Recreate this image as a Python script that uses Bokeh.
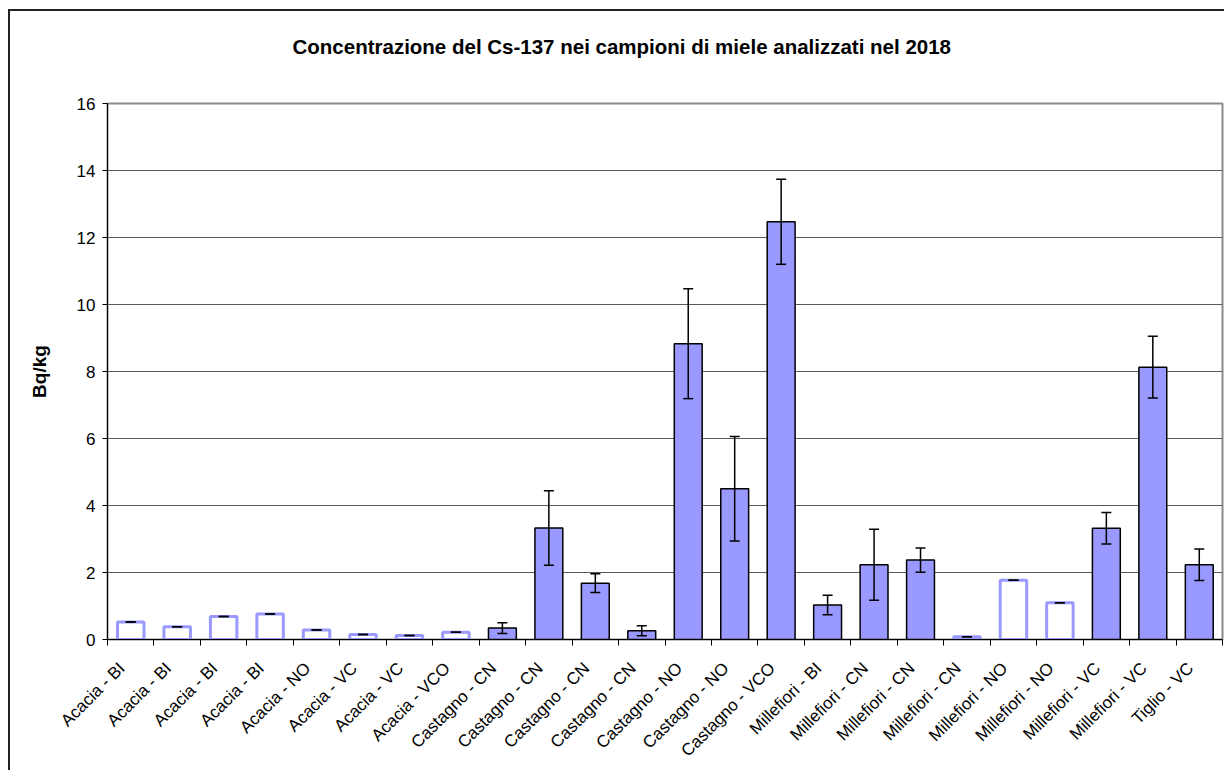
import math
from bokeh.plotting import figure
from bokeh.models import (Range1d, FixedTicker, ColumnDataSource, Whisker, TeeHead, Title)
from bokeh.embed import file_html
from bokeh.resources import INLINE

# ---- data ----
categories = ["Acacia - BI", "Acacia - BI", "Acacia - BI", "Acacia - BI",
              "Acacia - NO", "Acacia - VC", "Acacia - VC", "Acacia - VCO",
              "Castagno - CN", "Castagno - CN", "Castagno - CN", "Castagno - CN",
              "Castagno - NO", "Castagno - NO", "Castagno - VCO",
              "Millefiori - BI", "Millefiori - CN", "Millefiori - CN", "Millefiori - CN",
              "Millefiori - NO", "Millefiori - NO", "Millefiori - VC", "Millefiori - VC",
              "Tiglio - VC"]
values = [0.52, 0.38, 0.69, 0.76, 0.28, 0.15, 0.12, 0.22,
          0.34, 3.33, 1.68, 0.26, 8.83, 4.50, 12.47,
          1.03, 2.23, 2.37, 0.08, 1.77, 1.10, 3.32, 8.13, 2.23]
errors = [0, 0, 0, 0, 0, 0, 0, 0,
          0.16, 1.11, 0.28, 0.15, 1.64, 1.56, 1.27,
          0.29, 1.06, 0.36, 0, 0, 0, 0.47, 0.92, 0.47]
detected = [False] * 8 + [True] * 10 + [False] * 3 + [True] * 3
y_ticks = [0, 2, 4, 6, 8, 10, 12, 14, 16]
title_text = "Concentrazione del Cs-137 nei campioni di miele analizzati nel 2018"
y_label = "Bq/kg"

FONT = "Liberation Sans"
n = len(categories)
xs = list(range(n))

src_det = ColumnDataSource(dict(
    x=[x for x, d in zip(xs, detected) if d],
    top=[v for v, d in zip(values, detected) if d]))
src_nd = ColumnDataSource(dict(
    x=[x for x, d in zip(xs, detected) if not d],
    top=[v for v, d in zip(values, detected) if not d]))
src_err = ColumnDataSource(dict(
    x=xs,
    upper=[v + e for v, e in zip(values, errors)],
    lower=[v - e for v, e in zip(values, errors)]))

p = figure(width=1224, height=770, output_backend="svg", toolbar_location=None,
           x_range=Range1d(-0.5, n - 0.5), y_range=Range1d(0, 16),
           min_border_left=107, min_border_right=2, min_border_top=103,
           min_border_bottom=131)
p.border_fill_color = None
p.background_fill_color = "white"
p.outline_line_color = "#8a8a8a"
p.outline_line_width = 2
p.styles = {
    "background-image": "linear-gradient(#222222, #222222), linear-gradient(#222222, #222222)",
    "background-size": "100% 2px, 2px 100%",
    "background-position": "9px 9px, 8px 9px",
    "background-repeat": "no-repeat",
}

p.vbar(x="x", top="top", width=0.6, source=src_det,
       fill_color="#9999FF", line_color="black", line_width=1.5)
p.vbar(x="x", top="top", width=0.57, source=src_nd,
       fill_color="white", line_color="#9999FF", line_width=3)

wh = Whisker(source=src_err, base="x", upper="upper", lower="lower",
             line_color="black", line_width=1.5, level="annotation",
             upper_head=TeeHead(size=10, line_width=1.5, line_color="black"),
             lower_head=TeeHead(size=10, line_width=1.5, line_color="black"))
p.add_layout(wh)

# grid
p.xgrid.visible = False
p.ygrid.ticker = FixedTicker(ticks=y_ticks)
p.ygrid.grid_line_color = "#5a5a5a"
p.ygrid.grid_line_width = 1

# y axis
yax = p.yaxis[0]
yax.ticker = FixedTicker(ticks=y_ticks)
yax.axis_line_color = "black"
yax.axis_line_width = 1
yax.major_tick_out = 5
yax.major_tick_in = 0
yax.minor_tick_line_color = None
yax.major_label_text_font = FONT
yax.major_label_text_font_size = "17px"
yax.major_label_text_color = "black"
yax.major_label_standoff = 7
yax.axis_label = y_label
yax.axis_label_text_font = FONT
yax.axis_label_text_font_size = "19px"
yax.axis_label_text_font_style = "bold"
yax.axis_label_text_color = "black"
yax.axis_label_standoff = 24

# x axis: labels anchored slightly left of each category centre (as in the
# original, where the rotated label ends just left of the bar centre);
# category boundaries carry the tick marks
label_shift = 0.19
label_pos = [x - label_shift for x in xs]
xax = p.xaxis[0]
xax.ticker = FixedTicker(ticks=label_pos, minor_ticks=[x - 0.5 for x in range(n + 1)])
xax.major_label_overrides = {pos: c for pos, c in zip(label_pos, categories)}
xax.major_tick_line_color = None
xax.minor_tick_line_color = "black"
xax.minor_tick_out = 6
xax.minor_tick_in = 0
xax.axis_line_color = "black"
xax.major_label_orientation = math.pi / 4
xax.major_label_text_font = FONT
xax.major_label_text_font_size = "17px"
xax.major_label_text_color = "black"
xax.major_label_standoff = 20

# title: a thin spacer next to the frame, then the real title above it
p.title.text = ""
p.add_layout(Title(text=" ", text_font_size="1px", standoff=42), "above")
p.add_layout(Title(text=title_text, align="left", offset=185, standoff=0,
                   vertical_align="middle",
                   text_font=FONT, text_font_size="20.5px", text_font_style="bold",
                   text_color="black"), "above")

open("out.html", "w").write(file_html(p, INLINE))
